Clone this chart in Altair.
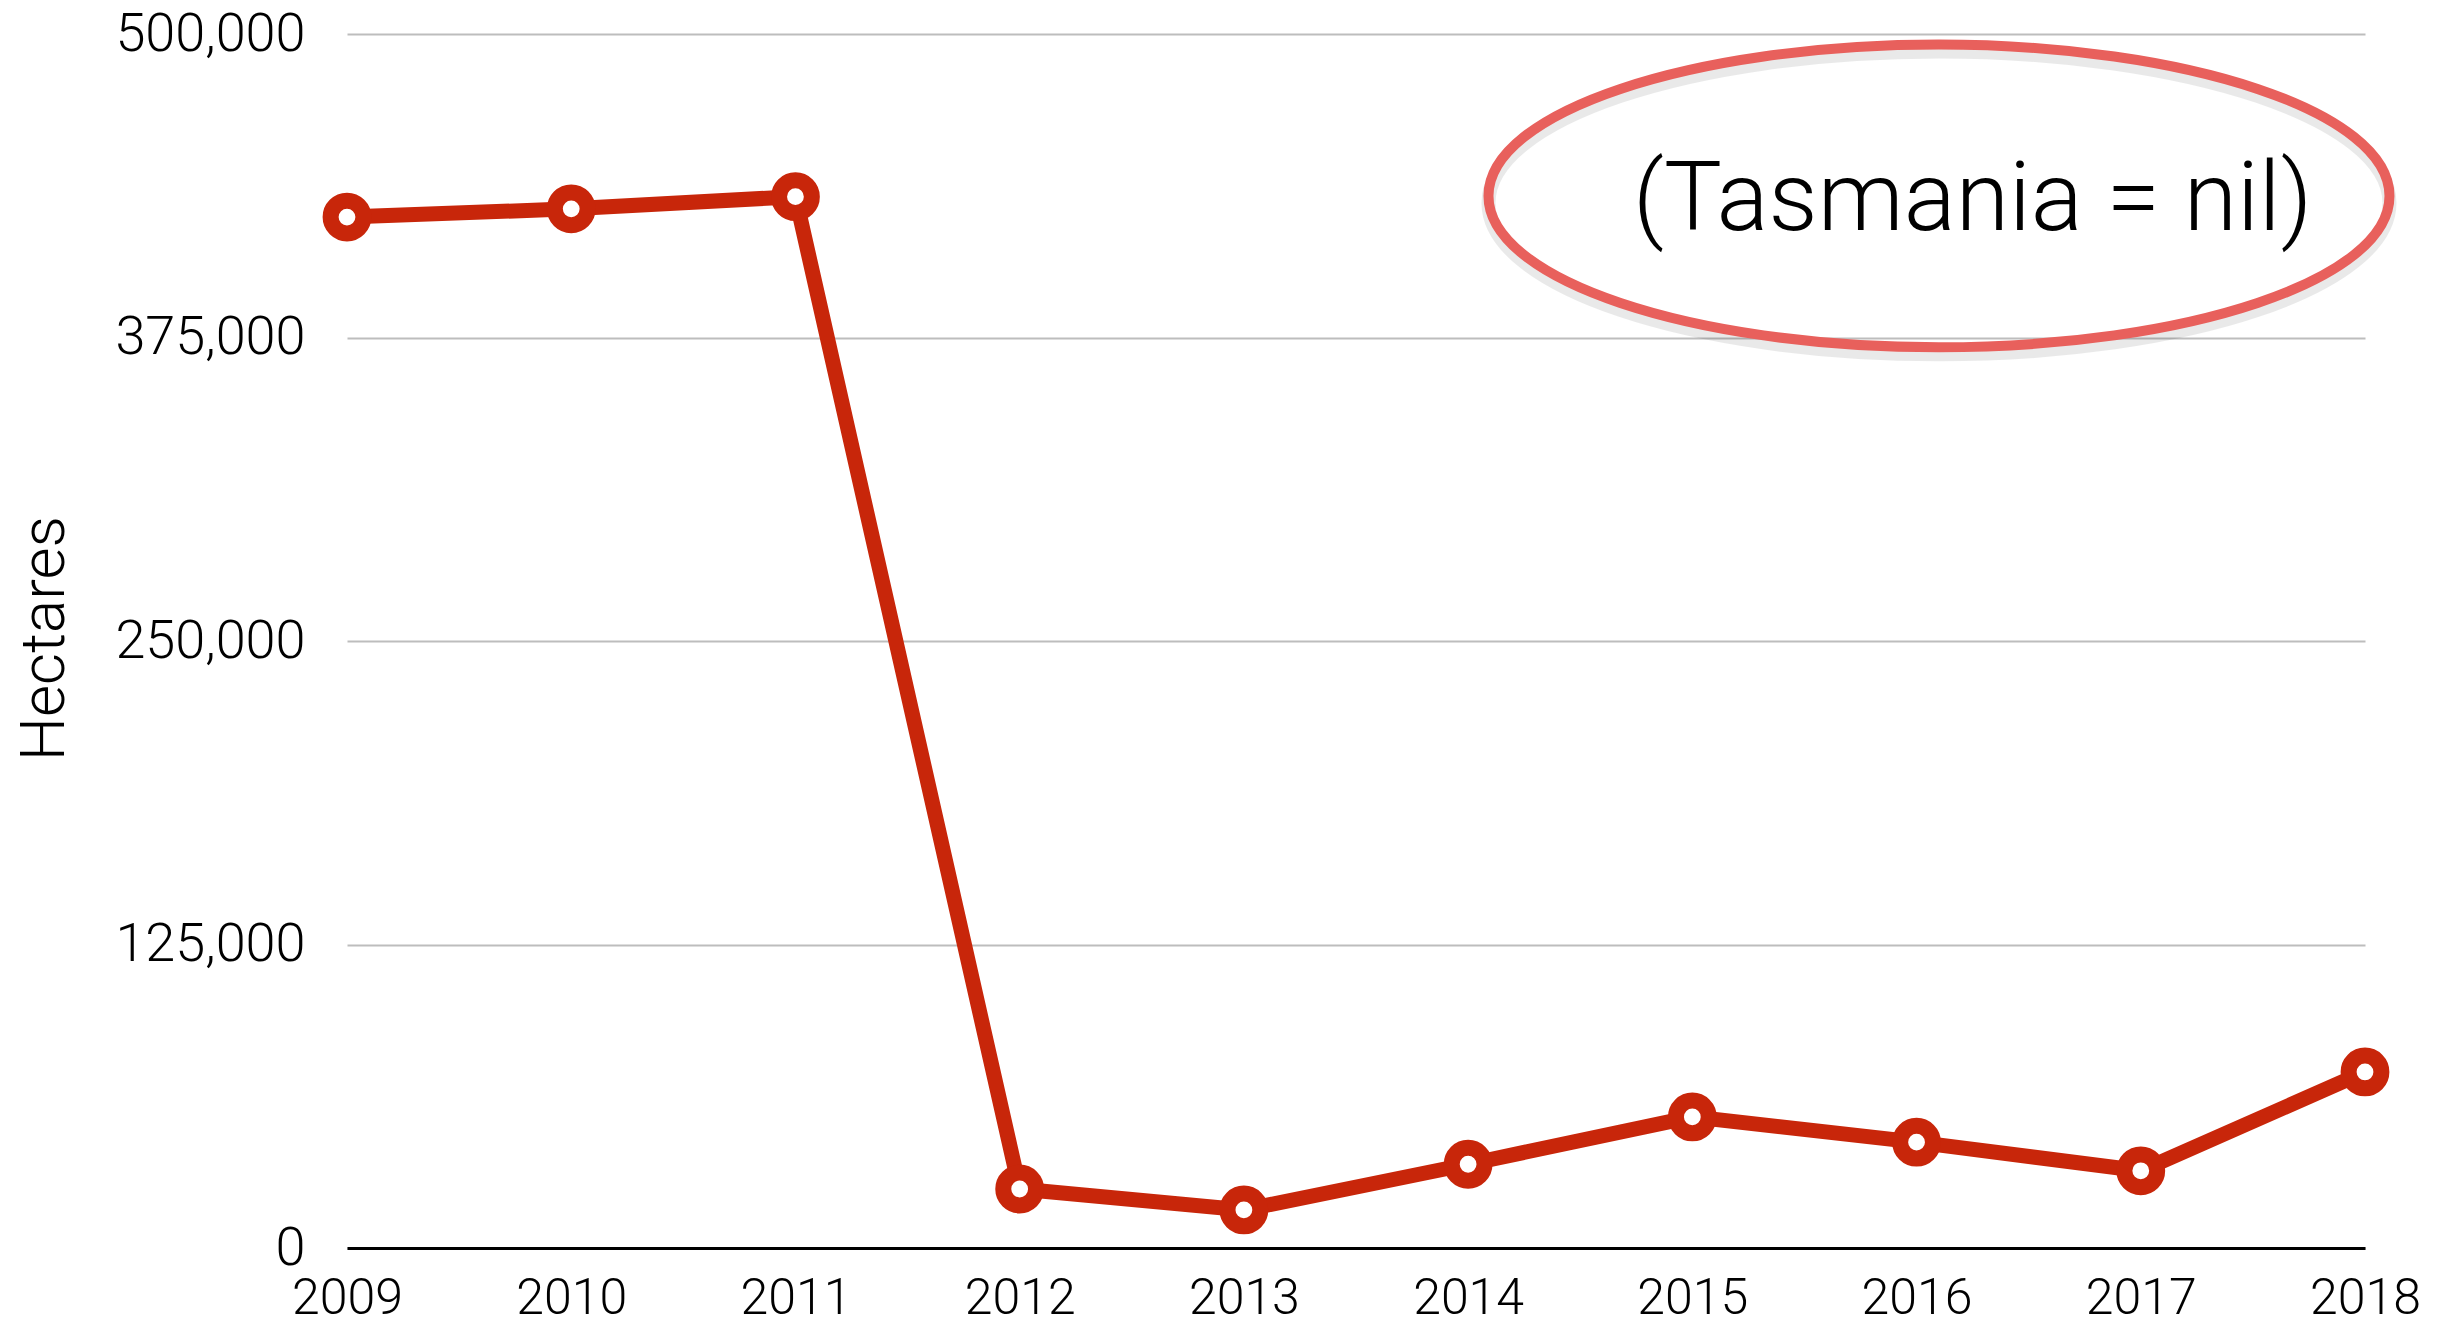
import altair as alt
import pandas as pd

# ---- data ----
years = [2009, 2010, 2011, 2012, 2013, 2014, 2015, 2016, 2017, 2018]
hectares = [424600, 428000, 433000, 24300, 15700, 34500, 54000, 43600, 31800, 72500]
y_ticks = [0, 125000, 250000, 375000, 500000]

note_text = ["(Tasmania = nil)"]
note_x = [2016.25]
note_y = [419300]
ellipse_x = [2016.10]
ellipse_y = [433300]

RED = "#c8260a"
NOTE_RED = "#e8605c"
FONT = "Helvetica Neue, Roboto, Liberation Sans, sans-serif"

df = pd.DataFrame({"Year": years, "Hectares": hectares})
note_df = pd.DataFrame({"x": note_x, "y": note_y, "t": note_text})
ell_df = pd.DataFrame({"x": ellipse_x, "y": ellipse_y})

k = 0.336
c = 0.5523
ellipse_path = (
    f"M 1 0 C 1 {c*k:.4f} {c:.4f} {k} 0 {k} "
    f"C {-c:.4f} {k} -1 {c*k:.4f} -1 0 "
    f"C -1 {-c*k:.4f} {-c:.4f} {-k} 0 {-k} "
    f"C {c:.4f} {-k} 1 {-c*k:.4f} 1 0 Z"
)

x_enc = alt.X(
    "Year:Q",
    scale=alt.Scale(domain=[2009, 2018], nice=False, zero=False),
    axis=alt.Axis(
        values=years, format="d", title=None, grid=False, ticks=False,
        domainColor="black", domainWidth=3, labelPadding=25,
        labelFontSize=50, labelFlush=False, labelOverlap=False, labelLimit=0,
    ),
)
y_enc = alt.Y(
    "Hectares:Q",
    scale=alt.Scale(domain=[0, 500000], nice=False),
    axis=alt.Axis(
        values=y_ticks, format=",d", title="Hectares", grid=True,
        gridColor="#bdbdbd", gridWidth=2, domain=False, ticks=False, tickSize=0,
        labelPadding=42, labelFontSize=54, labelLimit=0,
        titleFontSize=62, titleX=-303, titleY=604, titleAlign="center",
        titleBaseline="middle", titleAngle=270,
    ),
)

line = alt.Chart(df).mark_line(color=RED, strokeWidth=15).encode(x=x_enc, y=y_enc)
points = alt.Chart(df).mark_point(
    shape="circle", filled=True, fill="white", stroke=RED,
    strokeWidth=16, size=1075, opacity=1,
).encode(x="Year:Q", y="Hectares:Q")

shadow = alt.Chart(ell_df).mark_point(
    shape=ellipse_path, filled=False, stroke="#000000", strokeOpacity=0.12,
    strokeWidth=14, size=811801, yOffset=7,
).encode(x="x:Q", y="y:Q")
ellipse = alt.Chart(ell_df).mark_point(
    shape=ellipse_path, filled=False, stroke=NOTE_RED, strokeOpacity=1,
    strokeWidth=10, size=811801, opacity=1,
).encode(x="x:Q", y="y:Q")
note = alt.Chart(note_df).mark_text(
    font=FONT, fontSize=97, fontWeight=300, color="black",
    align="center", baseline="alphabetic",
).encode(x="x:Q", y="y:Q", text="t:N")

chart = alt.layer(line, points, shadow, ellipse, note).properties(
    width=2018, height=1214,
    padding={"left": 339, "top": 26, "right": 80, "bottom": 80},
    autosize=alt.AutoSizeParams(type="none"),
).configure_view(stroke=None).configure_axis(
    labelFont=FONT, titleFont=FONT, labelColor="black", titleColor="black",
    labelFontWeight=300, titleFontWeight=300,
)

chart.save("out.html", embed_options={"renderer": "svg", "actions": False})
